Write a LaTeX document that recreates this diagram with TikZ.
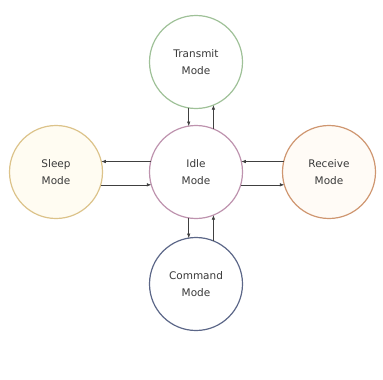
\documentclass[tikz,border=0pt]{standalone}
\usepackage{fontspec}
\setmainfont{DejaVu Sans}
\usetikzlibrary{arrows.meta}
\definecolor{txcol}{HTML}{9FC198}
\definecolor{idcol}{HTML}{BE93AE}
\definecolor{slcol}{HTML}{DCC38A}
\definecolor{rxcol}{HTML}{CF9670}
\definecolor{cmcol}{HTML}{5C6788}
\definecolor{txtcol}{HTML}{3A3A3A}
\tikzset{
  state/.style={circle, draw, line width=1.2pt, minimum size=93pt, inner sep=0pt, outer sep=0pt,
    align=center, text=txtcol, font=\fontsize{10.5}{17}\selectfont},
  link/.style={draw=black!75, line width=0.6pt, -{Latex[length=4.5pt,width=3.5pt]}}
}
\begin{document}
\begin{tikzpicture}[x=1pt,y=-1pt]
\useasboundingbox (0,0) rectangle (383,380);
\node[state, draw=txcol, fill=white] (T) at (196,62) {Transmit\\Mode};
\node[state, draw=idcol, fill=white] (I) at (196,172) {Idle\\Mode};
\node[state, draw=slcol, fill={rgb,255:red,255;green,252;blue,242}] (S) at (56,172) {Sleep\\Mode};
\node[state, draw=rxcol, fill={rgb,255:red,255;green,251;blue,246}] (R) at (329,172) {Receive\\Mode};
\node[state, draw=cmcol, fill=white] (C) at (196,284) {Command\\Mode};
% Transmit <-> Idle
\draw[link] (T.-99) -- (I.99);
\draw[link] (I.68) -- (T.-68);
% Idle <-> Command
\draw[link] (I.-99) -- (C.99);
\draw[link] (C.68) -- (I.-68);
% Sleep <-> Idle
\draw[link] (I.167) -- (S.13);
\draw[link] (S.-16) -- (I.-164);
% Receive <-> Idle
\draw[link] (R.167) -- (I.13);
\draw[link] (I.-16) -- (R.-164);
\end{tikzpicture}
\end{document}
